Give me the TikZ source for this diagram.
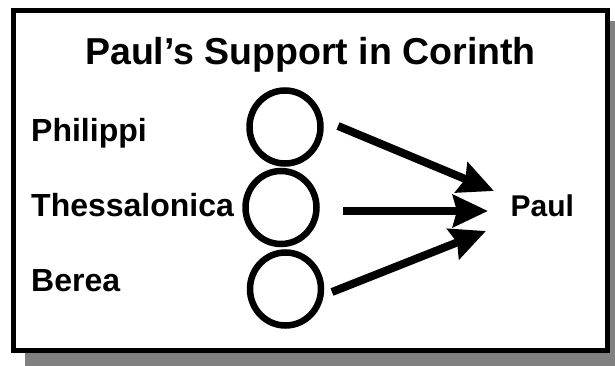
\documentclass[tikz,border=0pt]{standalone}
\usepackage{fontspec}
\setmainfont{Liberation Sans}
\usetikzlibrary{arrows.meta,shapes.geometric}
\definecolor{shadowgray}{HTML}{808080}
\begin{document}
\begin{tikzpicture}[x=1pt,y=-1pt,
  lbl/.style={inner sep=0pt,anchor=base west,font=\bfseries\fontsize{32}{38}\selectfont},
  ttl/.style={inner sep=0pt,anchor=base,font=\bfseries\fontsize{37.5}{45}\selectfont},
  ring/.style={draw,ellipse,line width=6.5pt,minimum width=71pt,minimum height=73pt,inner sep=0pt},
  fatarrow/.style={line width=8pt,-{Stealth[length=35pt,width=32pt,inset=4pt]}}]
\useasboundingbox (0,0) rectangle (615,366);
% shadow and frame
\fill[shadowgray] (25,21) rectangle (615,366);
\draw[line width=5pt,fill=white] (13.5,10.8) rectangle (607,350.2);
% title
\node[ttl] (title) at (310.5,65) {Paul’s Support in Corinth};
% labels
\node[lbl] (phil) at (31,141.7) {Philippi};
\node[lbl] (thes) at (31,216.7) {Thessalonica};
\node[lbl] (ber) at (31,291.5) {Berea};
\node[lbl,font=\bfseries\fontsize{30}{36}\selectfont] (paul) at (510.5,216.7) {Paul};
% circles
\node[ring] (c1) at (285,127) {};
\node[ring] (c2) at (281,207.5) {};
\node[ring] (c3) at (285.5,289) {};
% arrow ends
\coordinate (s1) at (338,126);
\coordinate (t1) at (494,191);
\coordinate (s2) at (343,211);
\coordinate (t2) at (488,211);
\coordinate (s3) at (332,292);
\coordinate (t3) at (486,231);
\draw[fatarrow] (s1) -- (t1);
\draw[fatarrow] (s2) -- (t2);
\draw[fatarrow] (s3) -- (t3);
\end{tikzpicture}
\end{document}
